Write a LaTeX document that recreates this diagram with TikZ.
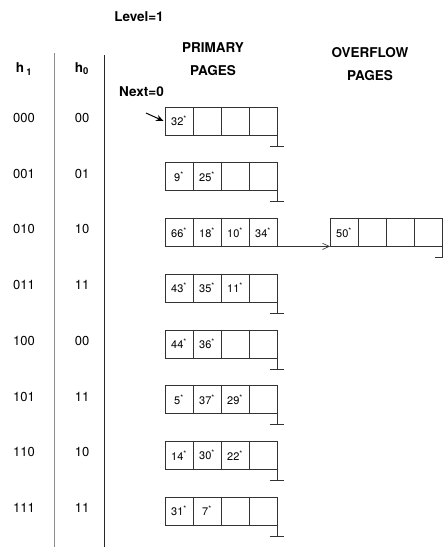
\documentclass[tikz,border=0pt]{standalone}
\usepackage{fontspec}
\setmainfont{TeX Gyre Heros}
\usetikzlibrary{arrows.meta, positioning}
\newcommand{\key}[1]{#1\textsuperscript{*}}

\begin{document}
\begin{tikzpicture}[
    x=1pt, y=-1pt,
    node distance=0pt,
    every node/.style={font=\fontsize{13}{15}\selectfont},
    head/.style={font=\fontsize{13.5}{23}\selectfont\bfseries, align=center},
    cell/.style={draw=black!80, line width=0.6pt, minimum width=28pt, minimum height=28pt,
        inner sep=0pt, outer sep=0pt, font=\fontsize{11}{13}\selectfont},
    divider/.style={line width=0.6pt},
    ground/.style={draw=black!80, line width=0.6pt},
    ptr/.style={-{Stealth[length=2.6mm, width=2.2mm]}, line width=1pt},
    chain/.style={-{Straight Barb[length=2.4mm, width=2.2mm]}, draw=black!80, line width=0.6pt}
]
    \useasboundingbox (0,0) rectangle (443,547);

    % headers
    \node[head] (level) at (139,17) {Level=1};
    \node[head] (primary) at (213,59.5) {PRIMARY\\PAGES};
    \node[head] (overflow) at (370,64.5) {OVERFLOW\\PAGES};
    \node[head] (next) at (141.5,92) {Next=0};
    \node[head] (h1) at (24,69) {h\,\textsubscript{1}};
    \node[head] (h0) at (82,69) {h\textsubscript{0}};

    % column rules
    \coordinate (rule1top) at (54,53);
    \coordinate (rule1bot) at (54,547);
    \coordinate (rule2top) at (104,55);
    \coordinate (rule2bot) at (104,547);
    \draw[divider, black!45] (rule1top) -- (rule1bot);
    \draw[divider, black!85, line width=0.9pt] (rule2top) -- (rule2bot);

    % primary buckets
    \foreach \r/\ha/\hb/\ka/\kb/\kc/\kd in {
        0/000/00/\key{32}/{}/{}/{},
        1/001/01/\key{9}/\key{25}/{}/{},
        2/010/10/\key{66}/\key{18}/\key{10}/\key{34},
        3/011/11/\key{43}/\key{35}/\key{11}/{},
        4/100/00/\key{44}/\key{36}/{}/{},
        5/101/11/\key{5}/\key{37}/\key{29}/{},
        6/110/10/\key{14}/\key{30}/\key{22}/{},
        7/111/11/\key{31}/\key{7}/{}/{}}{
        \pgfmathsetmacro{\yc}{121+55.7*\r}
        \node (h1-\r) at (24,\yc-3) {\ha};
        \node (h0-\r) at (82,\yc-3) {\hb};
        \node[cell] (p\r-1) at (179,\yc) {\ka};
        \node[cell, right=of p\r-1] (p\r-2) {\kb};
        \node[cell, right=of p\r-2] (p\r-3) {\kc};
        \node[cell, right=of p\r-3] (p\r-4) {\kd};
        \ifnum\r=2\else
            \draw[ground] (p\r-4.south east) -- ++(0,11) coordinate (g\r);
            \draw[ground] ([xshift=-7pt]g\r) -- ([xshift=7pt]g\r);
        \fi
    }

    % overflow bucket
    \node[cell] (o-1) at (344,232.4) {\key{50}};
    \node[cell, right=of o-1] (o-2) {};
    \node[cell, right=of o-2] (o-3) {};
    \node[cell, right=of o-3] (o-4) {};
    \draw[ground] (o-4.south east) -- ++(0,11) coordinate (go);
    \draw[ground] ([xshift=-7pt]go) -- ([xshift=7pt]go);
    \draw[chain] (p2-4.south east) -- (o-1.south west);

    % next pointer
    \coordinate (nexttail) at (146,113);
    \draw[ptr] (nexttail) -- ([xshift=-1.5pt]p0-1.west);
\end{tikzpicture}
\end{document}
